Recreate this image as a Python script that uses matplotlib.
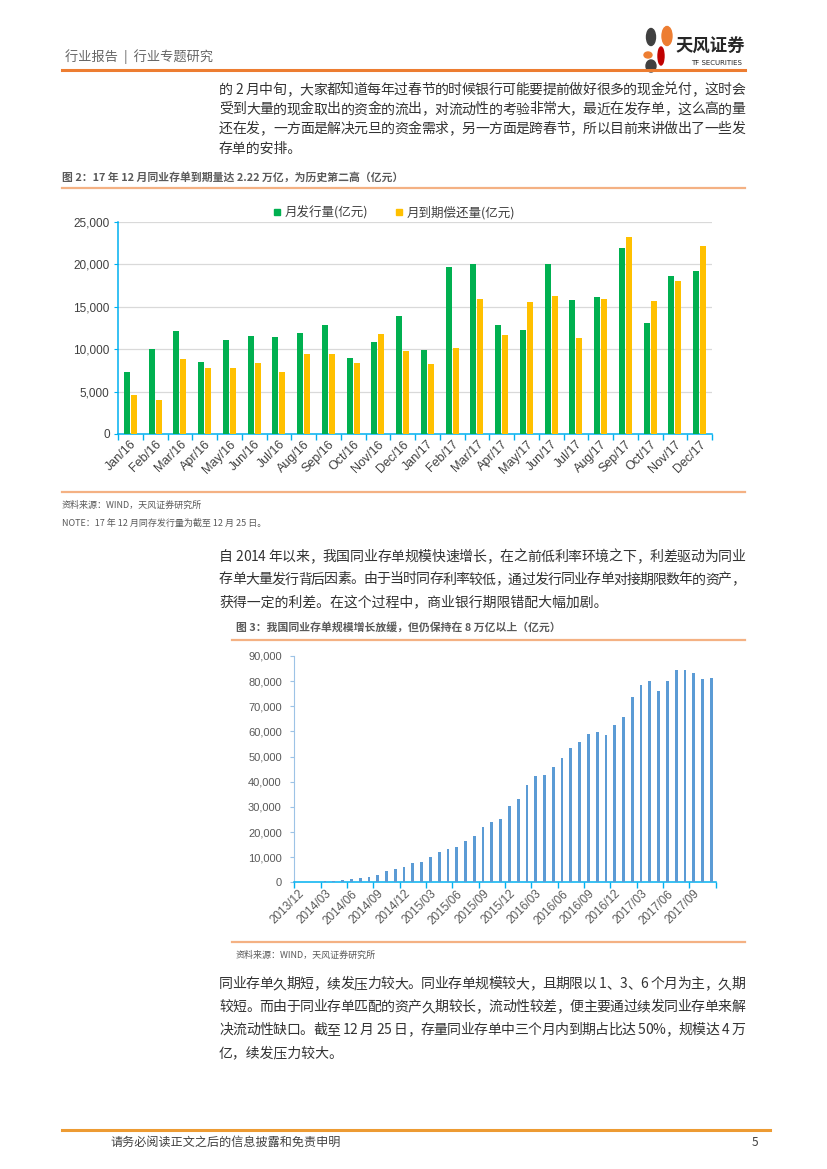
import matplotlib
matplotlib.use('Agg')
import matplotlib.pyplot as plt
import numpy as np
from matplotlib.lines import Line2D
from matplotlib.patches import Ellipse

plt.rcParams['font.family'] = ['Noto Sans CJK SC', 'DejaVu Sans']

W, H = 827, 1169

# --- chart 1 data: monthly issuance vs maturity (亿元) ---
months1 = ['Jan/16', 'Feb/16', 'Mar/16', 'Apr/16', 'May/16', 'Jun/16', 'Jul/16', 'Aug/16',
           'Sep/16', 'Oct/16', 'Nov/16', 'Dec/16', 'Jan/17', 'Feb/17', 'Mar/17', 'Apr/17',
           'May/17', 'Jun/17', 'Jul/17', 'Aug/17', 'Sep/17', 'Oct/17', 'Nov/17', 'Dec/17']
issue = [7300, 10000, 12100, 8450, 11100, 11600, 11400, 11950, 12850, 8950, 10850, 13900,
         9850, 19700, 20100, 12900, 12300, 20000, 15800, 16200, 21950, 13100, 18600, 19200]
mature = [4550, 4000, 8850, 7750, 7800, 8400, 7330, 9480, 9480, 8420, 11750, 9780,
          8200, 10200, 15900, 11700, 15600, 16250, 11300, 15900, 23200, 15700, 18050, 22200]

# --- chart 2 data: outstanding NCD balance (亿元), 2013/12 - 2017/11 ---
months2 = ['2013/12', '2014/01', '2014/02', '2014/03', '2014/04', '2014/05', '2014/06', '2014/07',
           '2014/08', '2014/09', '2014/10', '2014/11', '2014/12', '2015/01', '2015/02', '2015/03',
           '2015/04', '2015/05', '2015/06', '2015/07', '2015/08', '2015/09', '2015/10', '2015/11',
           '2015/12', '2016/01', '2016/02', '2016/03', '2016/04', '2016/05', '2016/06', '2016/07',
           '2016/08', '2016/09', '2016/10', '2016/11', '2016/12', '2017/01', '2017/02', '2017/03',
           '2017/04', '2017/05', '2017/06', '2017/07', '2017/08', '2017/09', '2017/10', '2017/11']
balance = [50, 100, 200, 400, 600, 900, 1200, 1600, 2300, 2900, 4400, 5200,
           6000, 7600, 8100, 10000, 11900, 13400, 13900, 16300, 18400, 22100, 23900, 25200,
           30200, 33000, 38700, 42200, 42700, 45900, 49300, 53300, 55700, 59100, 59600, 58700,
           62700, 65600, 73700, 78500, 79900, 76100, 79900, 84300, 84600, 83200, 80700, 81100]

para1 = ['的 2 月中旬，大家都知道每年过春节的时候银行可能要提前做好很多的现金兑付，这时会',
         '受到大量的现金取出的资金的流出，对流动性的考验非常大，最近在发存单，这么高的量',
         '还在发，一方面是解决元旦的资金需求，另一方面是跨春节，所以目前来讲做出了一些发',
         '存单的安排。']
para2 = ['自 2014 年以来，我国同业存单规模快速增长，在之前低利率环境之下，利差驱动为同业',
         '存单大量发行背后因素。由于当时同存利率较低，通过发行同业存单对接期限数年的资产，',
         '获得一定的利差。在这个过程中，商业银行期限错配大幅加剧。']
para3 = ['同业存单久期短，续发压力较大。同业存单规模较大，且期限以 1、3、6 个月为主，久期',
         '较短。而由于同业存单匹配的资产久期较长，流动性较差，便主要通过续发同业存单来解',
         '决流动性缺口。截至 12 月 25 日，存量同业存单中三个月内到期占比达 50%，规模达 4 万',
         '亿，续发压力较大。']

fig = plt.figure(figsize=(W / 100, H / 100), dpi=100)
renderer = fig.canvas.get_renderer()


def fx(x):
    return x / W


def fy(y):
    return 1 - y / H


def hline(y, x0, x1, color, lw):
    fig.add_artist(Line2D([fx(x0), fx(x1)], [fy(y), fy(y)], color=color, lw=lw,
                          transform=fig.transFigure))


def put(x, y, s, size, color='#404040', **kw):
    return fig.text(fx(x), fy(y), s, fontsize=size, color=color, va='center', **kw)


def justified(x0, x1, y, s, size, color='#333333'):
    # place chars one by one so the line fills x0..x1
    widths = []
    for ch in s:
        t = fig.text(0, 0, ch, fontsize=size)
        widths.append(t.get_window_extent(renderer).width)
        t.remove()
    extra = (x1 - x0 - sum(widths)) / (len(s) - 1)
    x = x0
    for ch, w in zip(s, widths):
        put(x, y, ch, size, color)
        x += w + extra


def paragraph(lines, y0, step, size=10):
    for i, line in enumerate(lines):
        y = y0 + i * step
        if i < len(lines) - 1:
            justified(219, 745, y, line, size)
        else:
            put(219, y, line, size, '#333333')


# --- header ---
put(65, 57, '行业报告  |  行业专题研究', 9.5, '#666666')
hline(69.5, 62, 745, '#ED7D31', 2.2)
for (cx, cy, w, h, c) in [(651, 37, 9, 17, '#404040'), (667, 36, 10, 19, '#ED7D31'),
                          (648, 55, 8, 6, '#ED7D31'), (661, 56, 6, 18, '#C00000'),
                          (651, 66, 10, 12, '#404040')]:
    fig.add_artist(Ellipse((fx(cx), fy(cy)), w / W, h / H, color=c,
                           transform=fig.transFigure))
put(675, 47, '天风证券', 12.5, '#262626', fontweight='bold')
put(691, 63, 'TF SECURITIES', 5, '#262626', family='DejaVu Sans Condensed')

paragraph(para1, 90, 19.5)

# --- chart 1 ---
put(62, 177, '图 2：17 年 12 月同业存单到期量达 2.22 万亿，为历史第二高（亿元）', 7.8,
    '#595959', fontweight='bold')
hline(188, 62, 745, '#F4B183', 1.6)

ax1 = fig.add_axes([fx(118), fy(434), (712 - 118) / W, (434 - 222) / H])
x = np.arange(len(months1))
ax1.bar(x - 0.14, issue, width=0.24, color='#00B050', label='月发行量(亿元)', zorder=3)
ax1.bar(x + 0.14, mature, width=0.24, color='#FFC000', label='月到期偿还量(亿元)', zorder=3)
ax1.set_xlim(-0.5, len(months1) - 0.5)
ax1.set_ylim(0, 25000)
ax1.set_yticks(np.arange(0, 25001, 5000))
ax1.set_yticklabels([f'{v:,}' for v in range(0, 25001, 5000)], fontsize=8.5,
                    color='#404040', family='Liberation Sans')
ax1.grid(axis='y', color='#D9D9D9', lw=0.9, zorder=0)
ax1.set_xticks(np.arange(-0.5, len(months1), 1))
ax1.set_xticklabels([])
ax1.set_xticks(x, minor=True)
ax1.set_xticklabels(months1, minor=True, rotation=45, ha='right', rotation_mode='anchor',
                    fontsize=9, color='#404040', family='Liberation Sans')
ax1.tick_params(axis='x', which='major', length=4, color='#00B0F0', width=1)
ax1.tick_params(axis='x', which='minor', length=0, pad=3)
ax1.tick_params(axis='y', length=3, color='#00B0F0', pad=3)
for s in ['top', 'right']:
    ax1.spines[s].set_visible(False)
for s in ['left', 'bottom']:
    ax1.spines[s].set_color('#00B0F0')
    ax1.spines[s].set_linewidth(1.1)
handles = [Line2D([], [], marker='s', ls='', color='#00B050', markersize=5),
           Line2D([], [], marker='s', ls='', color='#FFC000', markersize=5)]
fig.legend(handles, ['月发行量(亿元)', '月到期偿还量(亿元)'], ncol=2, frameon=False,
           loc='center', bbox_to_anchor=(fx(394), fy(213)), fontsize=9, handlelength=0.6,
           handletextpad=0.3, columnspacing=2.2, labelcolor='#404040')

hline(492, 62, 745, '#F4B183', 1.6)
put(62, 505, '资料来源：WIND，天风证券研究所', 6.5, '#595959')
put(62, 523, 'NOTE：17 年 12 月同存发行量为截至 12 月 25 日。', 6.5, '#595959')

paragraph(para2, 557, 22.5)

# --- chart 2 ---
put(236, 627, '图 3：我国同业存单规模增长放缓，但仍保持在 8 万亿以上（亿元）', 7.8,
    '#595959', fontweight='bold')
hline(640, 232, 745, '#F4B183', 1.6)

ax2 = fig.add_axes([fx(294.3), fy(882.3), (715.7 - 294.3) / W, (882.3 - 656) / H])
x2 = np.arange(len(months2))
ax2.bar(x2, balance, width=0.32, color='#5B9BD5', zorder=3)
ax2.set_xlim(-0.5, len(months2) - 0.5)
ax2.set_ylim(0, 90000)
ax2.set_yticks(np.arange(0, 90001, 10000))
ax2.set_yticklabels([f'{v:,}' for v in range(0, 90001, 10000)], fontsize=8,
                    color='#595959', family='Liberation Sans')
ax2.set_xticks(np.arange(-0.5, len(months2), 3))
ax2.set_xticklabels([])
ax2.set_xticks(x2[::3], minor=True)
ax2.set_xticklabels(months2[::3], minor=True, rotation=45, ha='right', rotation_mode='anchor',
                    fontsize=8.5, color='#595959', family='Liberation Sans')
ax2.tick_params(axis='x', which='major', length=4, color='#00B0F0', width=1)
ax2.tick_params(axis='x', which='minor', length=0, pad=4)
ax2.tick_params(axis='y', length=3, color='#9DC3E6', pad=6)
for s in ['top', 'right']:
    ax2.spines[s].set_visible(False)
ax2.spines['left'].set_color('#9DC3E6')
ax2.spines['bottom'].set_color('#00B0F0')
ax2.spines['bottom'].set_linewidth(1.1)

hline(942, 232, 745, '#F4B183', 1.6)
put(236, 955, '资料来源：WIND，天风证券研究所', 6.5, '#595959')

paragraph(para3, 984, 23)

# --- footer ---
hline(1130, 62, 770, '#ED9B33', 2.2)
put(110, 1142, '请务必阅读正文之后的信息披露和免责申明', 8.7, '#404040')
put(752, 1142, '5', 8.5, '#404040')

fig.savefig('out.png', dpi=100)
